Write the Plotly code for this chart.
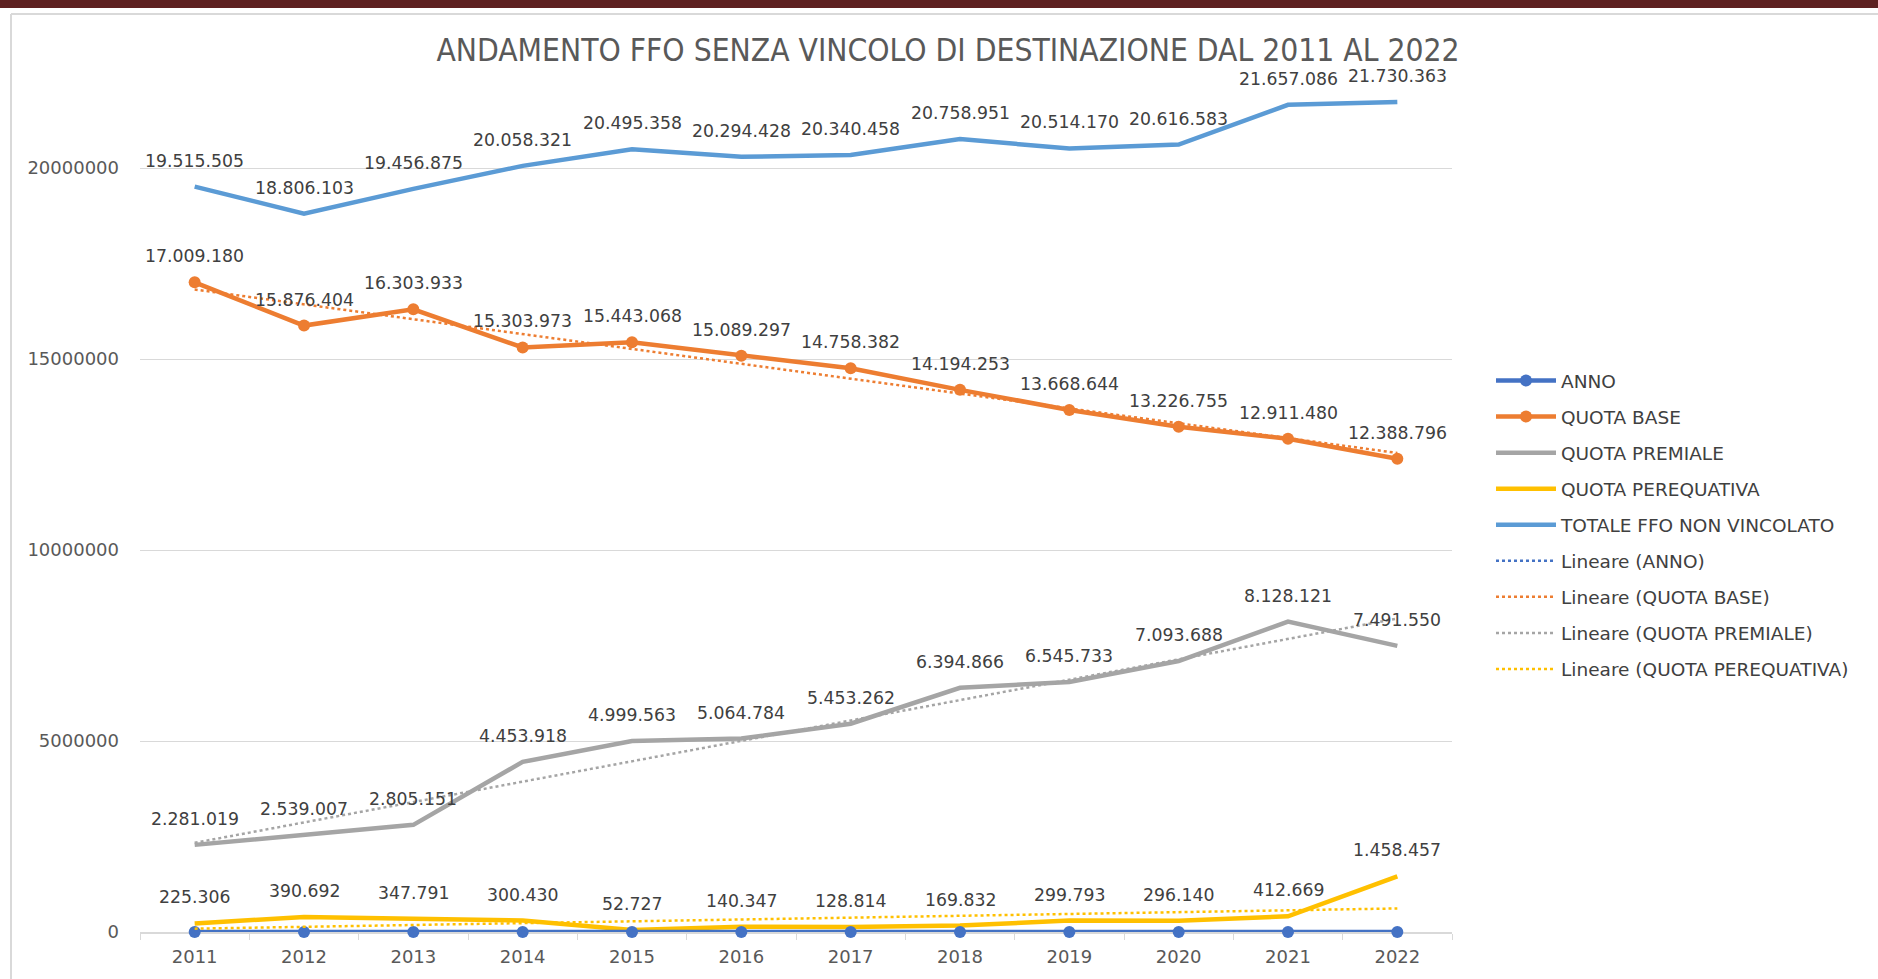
import numpy as np
import plotly.graph_objects as go

years = ["2011", "2012", "2013", "2014", "2015", "2016", "2017", "2018", "2019", "2020", "2021", "2022"]
anno = [2011, 2012, 2013, 2014, 2015, 2016, 2017, 2018, 2019, 2020, 2021, 2022]
quota_base = [17009180, 15876404, 16303933, 15303973, 15443068, 15089297, 14758382, 14194253, 13668644, 13226755, 12911480, 12388796]
quota_premiale = [2281019, 2539007, 2805151, 4453918, 4999563, 5064784, 5453262, 6394866, 6545733, 7093688, 8128121, 7491550]
quota_perequativa = [225306, 390692, 347791, 300430, 52727, 140347, 128814, 169832, 299793, 296140, 412669, 1458457]
totale = [19515505, 18806103, 19456875, 20058321, 20495358, 20294428, 20340458, 20758951, 20514170, 20616583, 21657086, 21730363]

title_text = "ANDAMENTO FFO SENZA VINCOLO DI DESTINAZIONE DAL 2011 AL 2022"

W, H = 1878, 979
ML, MR, MT, MB = 140, 426, 60, 47
PW, PH = W - ML - MR, H - MT - MB

C_ANNO = "#4472C4"
C_BASE = "#ED7D31"
C_PREM = "#A5A5A5"
C_PERE = "#FFC000"
C_TOT = "#5B9BD5"
TXT = "#404040"
FONT = "DejaVu Sans, Verdana, sans-serif"
LAB_FONT = dict(family=FONT, size=17.3, color=TXT)


def fmt_it(v):
    return f"{v:,}".replace(",", ".")


def trend(vals):
    x = np.arange(len(vals))
    m, q = np.polyfit(x, np.array(vals, dtype=float), 1)
    return list(m * x + q)


fig = go.Figure()

series = [
    ("QUOTA PEREQUATIVA", quota_perequativa, C_PERE, False, 4),
    ("QUOTA PREMIALE", quota_premiale, C_PREM, False, 3),
    ("QUOTA BASE", quota_base, C_BASE, True, 2),
    ("TOTALE FFO NON VINCOLATO", totale, C_TOT, False, 5),
    ("ANNO", anno, C_ANNO, True, 1),
]
for name, vals, col, mk, rank in series:
    fig.add_trace(go.Scatter(
        x=years, y=vals, name=name, mode="lines+markers" if mk else "lines",
        line=dict(color=col, width=4.5),
        marker=dict(color=col, size=12),
        cliponaxis=False, legendrank=rank, legendgroup=name,
    ))

trends = [
    ("Lineare (ANNO)", anno, C_ANNO, 6),
    ("Lineare (QUOTA BASE)", quota_base, C_BASE, 7),
    ("Lineare (QUOTA PREMIALE)", quota_premiale, C_PREM, 8),
    ("Lineare (QUOTA PEREQUATIVA)", quota_perequativa, C_PERE, 9),
]
for name, vals, col, rank in trends:
    fig.add_trace(go.Scatter(
        x=years, y=trend(vals), name=name, mode="lines",
        line=dict(color=col, width=2.5, dash="dot"),
        cliponaxis=False, legendrank=rank, legendgroup=name,
    ))

# data labels (above each point)
for vals in [totale, quota_base, quota_premiale, quota_perequativa]:
    for i, v in enumerate(vals):
        fig.add_annotation(x=i, y=v, xref="x", yref="y", text=fmt_it(v), showarrow=False,
                           yshift=26, font=LAB_FONT, xanchor="center", yanchor="middle")


def px(xp):
    return (xp - ML) / PW


def py(yp):
    return (H - MB - yp) / PH


shapes = [
    dict(type="rect", xref="paper", yref="paper", x0=px(-5), x1=px(W + 5), y0=py(-2), y1=py(8),
         fillcolor="#5E2121", line=dict(width=0), layer="above"),
    dict(type="line", xref="paper", yref="paper", x0=px(11), x1=px(W + 5), y0=py(14), y1=py(14),
         line=dict(color="#D9D9D9", width=2)),
    dict(type="line", xref="paper", yref="paper", x0=px(11), x1=px(11), y0=py(14), y1=py(H + 5),
         line=dict(color="#D9D9D9", width=2)),
]

fig.update_layout(
    width=W, height=H,
    margin=dict(l=ML, r=MR, t=MT, b=MB),
    paper_bgcolor="white", plot_bgcolor="white",
    shapes=shapes,
    title=dict(text=title_text, xref="paper", x=px(948), xanchor="center",
               yref="container", y=1 - 50 / H, yanchor="middle",
               font=dict(family="Liberation Sans Narrow, DejaVu Sans Condensed, Arial Narrow, sans-serif",
                         size=31.5, color="#595959")),
    xaxis=dict(type="category", range=[-0.5, 11.5], tickson="boundaries", ticks="outside", ticklen=6,
               tickcolor="#D9D9D9", showline=True, linecolor="#D9D9D9", linewidth=1.5,
               showgrid=False, zeroline=False, ticklabelstandoff=8, layer="below traces",
               tickfont=dict(family=FONT, size=18, color="#595959")),
    yaxis=dict(range=[0, 22.83e6], tick0=0, dtick=5e6, tickformat="d", showgrid=True,
               gridcolor="#D9D9D9", gridwidth=1.2, zeroline=False, showline=False, ticks="",
               ticklabelstandoff=20, layer="below traces",
               tickfont=dict(family=FONT, size=18, color="#595959")),
    legend=dict(x=px(1491), xanchor="left", y=py(362), yanchor="top",
                font=dict(family=FONT, size=18.5, color=TXT),
                tracegroupgap=9, traceorder="grouped", bgcolor="rgba(0,0,0,0)", itemwidth=60),
    showlegend=True,
)

fig.write_html("out.html", config={"displayModeBar": False},
               post_script="document.body.style.margin='0';")
